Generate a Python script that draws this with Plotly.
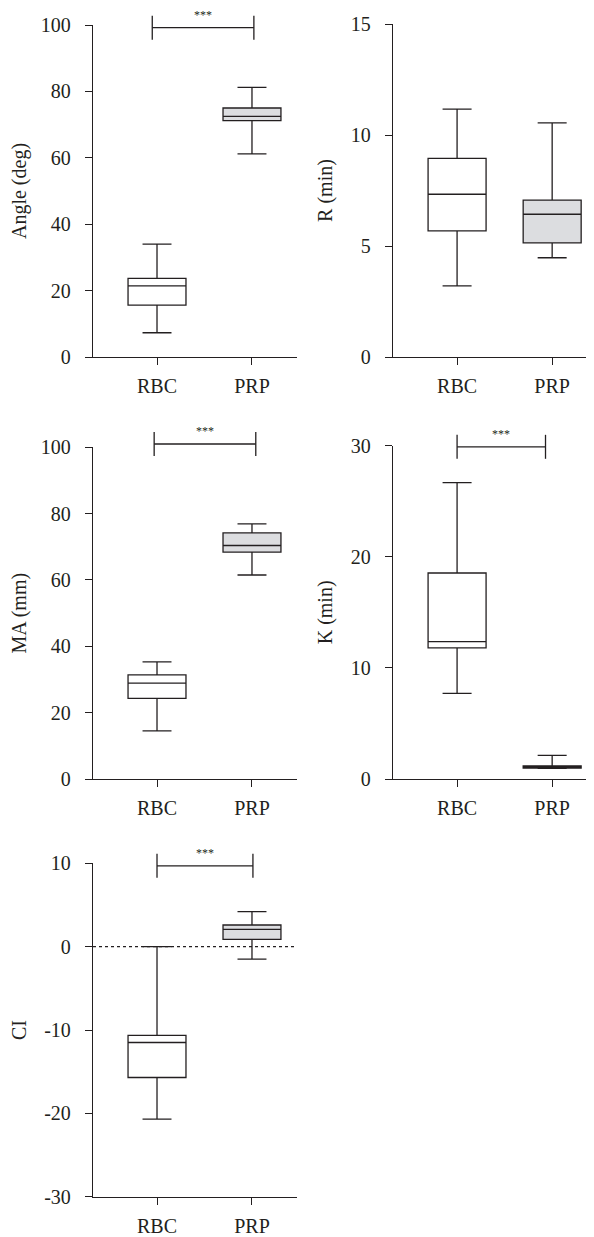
import plotly.graph_objects as go

# the page body has an 8 px default margin; lay the figure out so that
# picture pixel p lands at figure pixel p - OFF
OFF = 8
W, H = 594 - OFF, 1237 - OFF

groups = ["RBC", "PRP"]
group_pos = [0, 1]

# Angle (deg)
angle_lower = [7.3, 61.2]
angle_q1 = [15.6, 71.2]
angle_median = [21.4, 72.5]
angle_q3 = [23.7, 75.0]
angle_upper = [34.0, 81.2]

# R (min)
r_lower = [3.2, 4.47]
r_q1 = [5.68, 5.14]
r_median = [7.33, 6.43]
r_q3 = [8.95, 7.07]
r_upper = [11.17, 10.55]

# MA (mm)
ma_lower = [14.5, 61.5]
ma_q1 = [24.3, 68.4]
ma_median = [28.9, 70.4]
ma_q3 = [31.4, 74.2]
ma_upper = [35.3, 76.9]

# K (min)
k_lower = [7.7, 0.95]
k_q1 = [11.8, 0.97]
k_median = [12.36, 1.08]
k_q3 = [18.54, 1.19]
k_upper = [26.67, 2.13]

# CI
ci_lower = [-20.7, -1.5]
ci_q1 = [-15.7, 0.88]
ci_median = [-11.5, 2.08]
ci_q3 = [-10.64, 2.6]
ci_upper = [0.0, 4.2]

angle_ticks = [0, 20, 40, 60, 80, 100]
r_ticks = [0, 5, 10, 15]
ma_ticks = [0, 20, 40, 60, 80, 100]
k_ticks = [0, 10, 20, 30]
ci_ticks = [-30, -20, -10, 0, 10]
ci_ticktext = ["-30", "-20", "-10", "0", "10"]

# significance brackets: (level, x from, x to)
angle_sig = [99.2, -0.05, 1.02]
ma_sig = [101.0, -0.03, 1.04]
k_sig = [29.9, 0.0, 0.93]
ci_sig = [9.7, 0.0, 1.01]

INK = "#231f20"
FILL_PRP = "#dcdde0"
FONT = "Liberation Serif, Times New Roman, serif"
LW = 1.3

panels = [
    dict(title="Angle (deg)", data=(angle_lower, angle_q1, angle_median, angle_q3, angle_upper),
         ticks=angle_ticks, ticktext=None, yr=[0, 100], px=(93, 297, 25, 357), xr=[-0.674, 1.474], sig=angle_sig),
    dict(title="R (min)", data=(r_lower, r_q1, r_median, r_q3, r_upper),
         ticks=r_ticks, ticktext=None, yr=[0, 15], px=(393, 594, 24, 357), xr=[-0.674, 1.44], sig=None),
    dict(title="MA (mm)", data=(ma_lower, ma_q1, ma_median, ma_q3, ma_upper),
         ticks=ma_ticks, ticktext=None, yr=[0, 100], px=(93, 297, 447.3, 779), xr=[-0.674, 1.474], sig=ma_sig),
    dict(title="K (min)", data=(k_lower, k_q1, k_median, k_q3, k_upper),
         ticks=k_ticks, ticktext=None, yr=[0, 30], px=(393, 594, 445.7, 779), xr=[-0.674, 1.44], sig=k_sig),
    dict(title="CI", data=(ci_lower, ci_q1, ci_median, ci_q3, ci_upper),
         ticks=ci_ticks, ticktext=ci_ticktext, yr=[-30, 10], px=(93, 297, 863.3, 1196.7), xr=[-0.674, 1.474], sig=ci_sig),
]

fig = go.Figure()
layout = {}
shapes = []
annotations = []

for i, p in enumerate(panels, start=1):
    sx = "" if i == 1 else str(i)
    xa, ya = "x" + sx, "y" + sx
    lo, q1, med, q3, up = p["data"]
    for j, g in enumerate(groups):
        fig.add_trace(go.Box(
            x=[group_pos[j]], lowerfence=[lo[j]], q1=[q1[j]], median=[med[j]],
            q3=[q3[j]], upperfence=[up[j]], name=g,
            width=0.61, whiskerwidth=0.5,
            fillcolor="white" if j == 0 else FILL_PRP,
            line=dict(color=INK, width=LW),
            boxpoints=False, showlegend=False, hoverinfo="skip",
            xaxis=xa, yaxis=ya,
        ))
    x0, x1, t, b = p["px"]
    dom_h = b - t
    common = dict(showline=True, linecolor=INK, linewidth=LW, ticks="outside",
                  ticklen=7, tickwidth=LW, tickcolor=INK, showgrid=False, zeroline=False,
                  automargin=False,
                  tickfont=dict(family=FONT, size=20, color=INK))
    layout["xaxis" + sx] = dict(common, domain=[(x0 - OFF) / W, min(1.0, (x1 - OFF) / W)], range=p["xr"],
                                tickvals=group_pos, ticktext=groups, anchor=ya,
                                ticklabelstandoff=4)
    yax = dict(common, domain=[1 - (b - OFF) / H, 1 - (t - OFF) / H], range=p["yr"], tickvals=p["ticks"],
               anchor=xa, ticklabelstandoff=10,
               title=dict(text=p["title"], font=dict(family=FONT, size=20, color=INK), standoff=12))
    if p["ticktext"] is not None:
        yax["ticktext"] = p["ticktext"]
    layout["yaxis" + sx] = yax

    if p["sig"] is not None:
        lvl, sx0, sx1 = p["sig"]
        r0, r1 = p["yr"]
        yd = (lvl - r0) / (r1 - r0)
        h = 12 / dom_h
        ln = dict(color=INK, width=LW)
        shapes.append(dict(type="line", xref=xa, yref=ya + " domain", x0=sx0, x1=sx1, y0=yd, y1=yd, line=ln))
        shapes.append(dict(type="line", xref=xa, yref=ya + " domain", x0=sx0, x1=sx0, y0=yd - h, y1=yd + h, line=ln))
        shapes.append(dict(type="line", xref=xa, yref=ya + " domain", x0=sx1, x1=sx1, y0=yd - h, y1=yd + h, line=ln))
        annotations.append(dict(xref=xa, yref=ya + " domain", x=(sx0 + sx1) / 2, y=yd, yshift=13,
                                text="***", showarrow=False, yanchor="middle", borderpad=0,
                                font=dict(family=FONT, size=12, color=INK)))

# dotted zero line in CI panel
shapes.append(dict(type="line", xref="x5 domain", yref="y5", x0=0, x1=1, y0=0, y1=0,
                   line=dict(color=INK, width=LW, dash="dot")))

fig.update_layout(
    template="none",
    font=dict(family=FONT, size=20, color=INK),
    width=W, height=H, margin=dict(l=0, r=0, t=0, b=0),
    paper_bgcolor="white", plot_bgcolor="white",
    shapes=shapes, annotations=annotations, **layout,
)

fig.write_html("out.html")
